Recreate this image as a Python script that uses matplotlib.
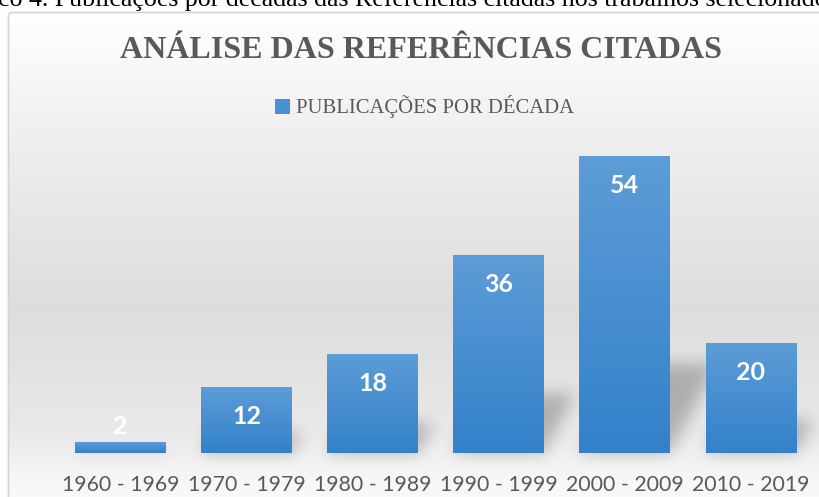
import numpy as np
import matplotlib
matplotlib.use("Agg")
import matplotlib.pyplot as plt
from matplotlib.patches import Patch, FancyBboxPatch, Polygon
from matplotlib.colors import LinearSegmentedColormap

# dados
decadas = ["1960 - 1969", "1970 - 1979", "1980 - 1989",
           "1990 - 1999", "2000 - 2009", "2010 - 2019"]
publicacoes = [2, 12, 18, 36, 54, 20]

titulo = "ANÁLISE DAS REFERÊNCIAS CITADAS"
legenda = "PUBLICAÇÕES POR DÉCADA"
legenda_fig = "co 4. Publicações por décadas das Referências citadas nos trabalhos selecionados"

cinza = "#595959"
azul_topo = "#5d9cd7"
azul_base = "#3381ca"


class SombraBlur:
    """filtro agg: desfoca o alfa do artista (sombra)"""
    def __init__(self, sigma, alpha):
        self.sigma = sigma
        self.alpha = alpha

    def __call__(self, im, dpi):
        pad = int(3 * self.sigma)
        src = np.pad(im, [(pad, pad), (pad, pad), (0, 0)], "constant")
        x = np.arange(-pad, pad + 1)
        k = np.exp(-x ** 2 / (2 * self.sigma ** 2))
        k /= k.sum()
        a = src[:, :, 3]
        a = np.apply_along_axis(lambda r: np.convolve(r, k, mode="same"), 0, a)
        a = np.apply_along_axis(lambda r: np.convolve(r, k, mode="same"), 1, a)
        out = np.zeros_like(src)
        out[:, :, 3] = a * self.alpha
        return out, -pad, -pad


fig = plt.figure(figsize=(8.19, 4.97), dpi=100)

# fundo com gradiente
bg = fig.add_axes([0, 0, 1, 1], zorder=0)
bg.set_xlim(0, 819)
bg.set_ylim(497, 0)
bg.axis("off")
grad_cmap = LinearSegmentedColormap.from_list(
    "fundo", [(0.0, "#ffffff"), (0.22, "#f1f1f1"), (0.6, "#dddddd"),
              (0.85, "#e9e9e9"), (0.95, "#f7f7f7"), (1.0, "#fafafa")])
grad = np.linspace(0, 1, 256).reshape(-1, 1)
img = bg.imshow(grad, cmap=grad_cmap, aspect="auto", extent=(8, 830, 505, 12),
                interpolation="bicubic", zorder=0)
borda = FancyBboxPatch((8.5, 12.5), 830, 500, boxstyle="round,pad=0,rounding_size=4",
                       facecolor="none", edgecolor="#d4d4d4", linewidth=1.2, zorder=1)
bg.add_patch(borda)
img.set_clip_path(borda)

fig.text(-0.003, 1.0 - 6 / 497, legenda_fig, family="Liberation Serif",
         fontsize=18.6, color="black", ha="left", va="baseline")

# eixo principal
ax = fig.add_axes([57.5 / 819, 44 / 497, 756.5 / 819, 330 / 497], zorder=2)
ax.patch.set_alpha(0)
x = np.arange(len(decadas))
bars = ax.bar(x, publicacoes, width=0.72, color=azul_base, zorder=3)

# gradiente nas barras
bar_cmap = LinearSegmentedColormap.from_list("barra", [azul_base, azul_topo])
for b in bars:
    x0, y0 = b.get_x(), b.get_y()
    w, h = b.get_width(), b.get_height()
    im = ax.imshow(grad, cmap=bar_cmap, aspect="auto", origin="lower",
                   extent=(x0, x0 + w, y0, y0 + h), zorder=3.1)
    im.set_clip_path(b)
ax.set_xlim(-0.5, len(decadas) - 0.5)
ax.set_ylim(0, 60)

# sombra em perspectiva
for b, v in zip(bars, publicacoes):
    x0, w = b.get_x(), b.get_width()
    desloc = v * 0.0068
    alt = v * 0.3
    sombra = Polygon([(x0, 0), (x0 + w, 0), (x0 + w + desloc, alt), (x0 + desloc, alt)],
                     closed=True, facecolor="black", edgecolor="none", zorder=2.5)
    sombra.set_agg_filter(SombraBlur(sigma=8, alpha=0.24))
    ax.add_patch(sombra)

# rótulos de valor
for xi, v in zip(x, publicacoes):
    ax.text(xi, max(v - 5.45, 4.9), str(v), ha="center", va="center",
            color="white", fontsize=18, fontweight="bold", family="Lato", zorder=4)

ax.set_xticks(x)
ax.set_xticklabels(decadas, family="Lato", fontsize=15.3, color=cinza)
ax.tick_params(axis="x", length=0, pad=15.5)
ax.set_yticks([])
for s in ax.spines.values():
    s.set_visible(False)

fig.text(421 / 819, 1 - 50 / 497, titulo, family="Liberation Serif", fontweight="bold",
         fontsize=23, color=cinza, ha="center", va="center", zorder=5)

ax.legend(handles=[Patch(facecolor="#4a90d6", edgecolor="none", label=legenda)],
          loc="center", bbox_to_anchor=(424.5 / 819, 1 - 107 / 497),
          bbox_transform=fig.transFigure, frameon=False,
          handlelength=0.75, handleheight=0.75, handletextpad=0.3,
          prop={"family": "Liberation Serif", "size": 14.9}, labelcolor=cinza)

fig.savefig("out.png", dpi=100)
